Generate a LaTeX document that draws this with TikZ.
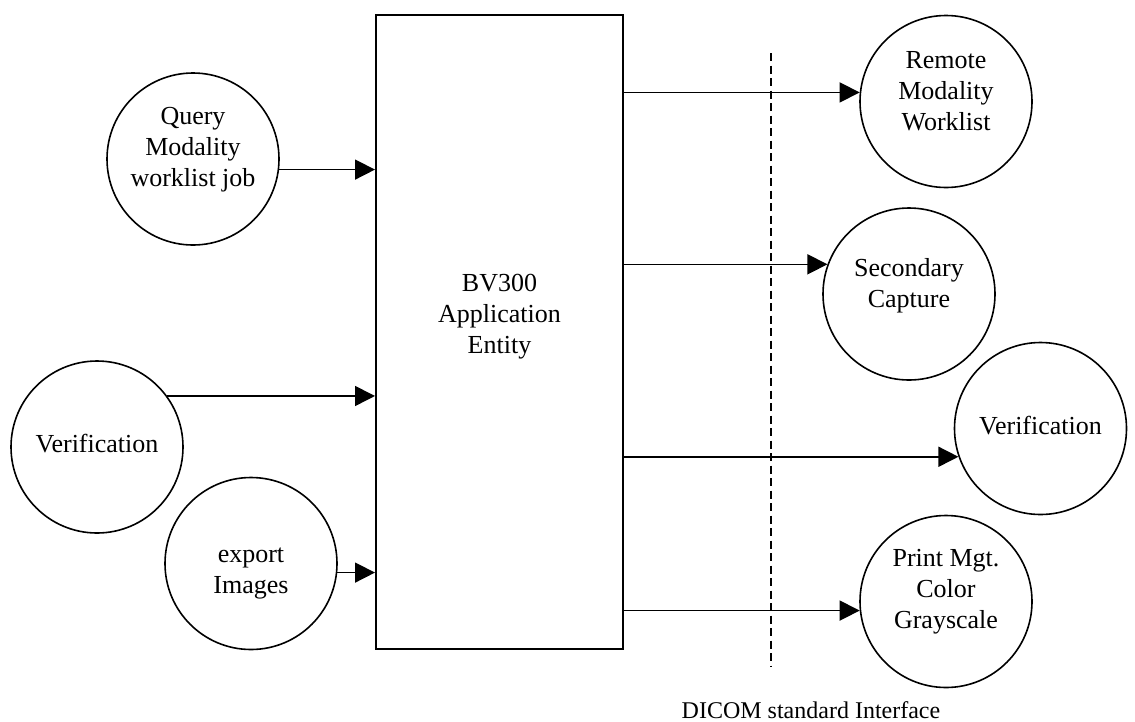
\documentclass[tikz,border=0pt]{standalone}
\usepackage{fontspec}
\setmainfont{Liberation Serif}
\usetikzlibrary{arrows.meta,calc}

\begin{document}
\begin{tikzpicture}[
        %Environment config
        x=1pt, y=-1pt,
        line width=1.6pt,
        %Environment styles
        BlockCfg/.style={
            draw, rectangle, line width=2pt,
            minimum width=247pt, minimum height=634pt
        },
        BubbleCfg/.style={
            draw, circle, minimum size=172pt, inner sep=0pt
        },
        TextCfg/.style={
            align=center, font=\fontsize{26}{31}\selectfont
        },
        FlowCfg/.style={
            -{Triangle[length=20pt,width=20pt]}
        },
        BorderCfg/.style={
            dash pattern=on 8pt off 4.5pt
        }
    ]
    \useasboundingbox (0,0) rectangle (1135,721);

    \path
        (499.5,332) node[BlockCfg,
            label={[TextCfg,yshift=15pt]center:{BV300\\Application\\Entity}}](BV){}
        %left side
        (193,159) node[BubbleCfg,
            label={[TextCfg,yshift=9pt]center:{Query\\Modality\\worklist job}}](QMW){}
        (97,447) node[BubbleCfg,
            label={[TextCfg,yshift=3pt]center:{Verification}}](VerL){}
        (251,563.5) node[BubbleCfg,
            label={[TextCfg,yshift=-10pt]center:{export\\Images}}](ExpImg){}
        %right side
        (946,101.5) node[BubbleCfg,
            label={[TextCfg,yshift=10pt]center:{Remote\\Modality\\Worklist}}](RMW){}
        (909,294) node[BubbleCfg,
            label={[TextCfg,yshift=8pt]center:{Secondary\\Capture}}](SecCap){}
        (1040.5,428.5) node[BubbleCfg,
            label={[TextCfg,yshift=3pt]center:{Verification}}](VerR){}
        (946,601.5) node[BubbleCfg,
            label={[TextCfg,yshift=10pt]center:{Print Mgt.\\Color\\Grayscale}}](PrintMgt){}
        (811,718) node[anchor=base,inner sep=0pt,
            font=\fontsize{24}{28}\selectfont](DICOM){DICOM standard Interface};

    \coordinate (IfTop) at (771,53);
    \coordinate (IfBot) at (771,667);

    \draw[BorderCfg] (IfTop) -- (IfBot);

    \draw[FlowCfg]
        (QMW.-7) -- (QMW.-7 -| BV.west);
    \draw[FlowCfg]
        (VerL.36) -- (VerL.36 -| BV.west);
    \draw[FlowCfg]
        (ExpImg.-6) -- (ExpImg.-6 -| BV.west);

    \draw[FlowCfg]
        (RMW.174 -| BV.east) -- (RMW.174);
    \draw[FlowCfg]
        (SecCap.160 -| BV.east) -- (SecCap.160);
    \draw[FlowCfg]
        (VerR.199 -| BV.east) -- (VerR.199);
    \draw[FlowCfg]
        (PrintMgt.186 -| BV.east) -- (PrintMgt.186);

\end{tikzpicture}
\end{document}
